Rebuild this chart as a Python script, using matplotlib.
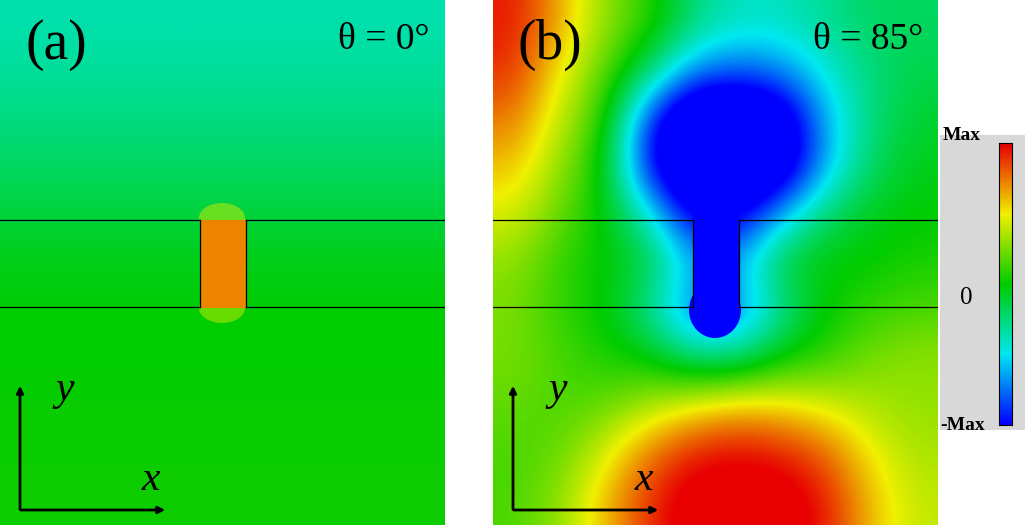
import numpy as np
import matplotlib
matplotlib.use("Agg")
import matplotlib.pyplot as plt
from matplotlib.colors import LinearSegmentedColormap
from matplotlib.patches import Rectangle, Ellipse

W, H = 1025, 525
cmap = LinearSegmentedColormap.from_list("f", [(0, "#0000ff"), (0.25, "#00e8f0"), (0.5, "#00cc00"),
                                              (0.75, "#f0f000"), (1, "#e80000")])
SERIF = "Liberation Serif"

# panel (a) coarse field (rows top->bottom)
field_a = np.array([
    [-0.36]*6, [-0.32]*6, [-0.27]*6, [-0.2]*6, [-0.12]*6,
    [-0.05]*6, [0.0]*6, [0.0]*6, [0.02]*6, [0.02]*6, [0.03]*6])
# panel (b) coarse field
field_b = np.array([
    [0.95, 0.65, 0.3, 0.1, -0.25, -0.4, -0.4, -0.3, -0.2, -0.2],
    [0.9, 0.5, 0.2, -0.2, -0.7, -0.8, -0.7, -0.45, -0.25, -0.15],
    [0.75, 0.4, 0.1, -0.9, -1.5, -1.5, -1.3, -0.6, -0.25, -0.1],
    [0.6, 0.3, 0.0, -1.0, -1.5, -1.5, -1.3, -0.6, -0.2, -0.05],
    [0.45, 0.2, 0.0, -0.4, -1.1, -1.1, -0.6, -0.2, -0.05, 0.0],
    [0.3, 0.1, 0.0, -0.1, -0.6, -0.6, -0.1, 0.0, 0.0, 0.05],
    [0.25, 0.1, 0.0, -0.3, -0.8, -0.8, -0.3, 0.0, 0.1, 0.15],
    [0.25, 0.15, 0.05, 0.0, -0.25, -0.25, 0.0, 0.1, 0.25, 0.3],
    [0.2, 0.15, 0.2, 0.35, 0.5, 0.6, 0.55, 0.45, 0.35, 0.3],
    [0.15, 0.2, 0.45, 0.75, 0.95, 1.0, 0.95, 0.8, 0.5, 0.35],
    [0.15, 0.3, 0.6, 0.9, 1.1, 1.1, 1.1, 0.95, 0.6, 0.4]])
rod_a, rod_b = 0.72, -1.0
labels = ["(a)", "(b)"]
angles = ["0", "85"]
cb_labels = ["Max", "0", "-Max"]

fig = plt.figure(figsize=(W/100, H/100), dpi=100)

def ax_px(x0, y0, w, h):
    return fig.add_axes([x0/W, 1-(y0+h)/H, w/W, h/H])

for i, (x0, fld, rv) in enumerate([(0, field_a, rod_a), (493, field_b, rod_b)]):
    ax = ax_px(x0, 0, 445, 525)
    ax.imshow(fld, cmap=cmap, vmin=-1, vmax=1, interpolation="bicubic",
              extent=(0, 445, 525, 0), aspect="auto")
    ax.set_xlim(0, 445); ax.set_ylim(525, 0); ax.axis("off")
    col = cmap((rv+1)/2)
    if i == 0:
        for yy in (218, 308):
            ax.add_patch(Ellipse((222, yy), 46, 30, color=cmap(0.74), alpha=0.45, lw=0))
        ax.add_patch(Rectangle((200, 220), 46, 88, color=col, lw=0))
    else:
        ax.add_patch(Ellipse((222, 310), 52, 56, color=col, lw=0))
        ax.add_patch(Rectangle((200, 200), 46, 108, color=col, lw=0))
    for yy in (220, 307):
        ax.plot([0, 200], [yy, yy], color="k", lw=0.9)
        ax.plot([246, 445], [yy, yy], color="k", lw=0.9)
    ax.plot([200, 200], [220, 307], color="k", lw=0.9)
    ax.plot([246, 246], [220, 307], color="k", lw=0.9)
    ax.text(25, 45, labels[i], fontsize=40, family=SERIF, va="center")
    ax.text(430, 40, "θ = " + angles[i] + "°", fontsize=27, family=SERIF,
            ha="right", va="center")
    ax.annotate("", xy=(20, 383), xytext=(20, 512), arrowprops=dict(arrowstyle="-|>", lw=2, color="k"))
    ax.annotate("", xy=(168, 510), xytext=(18, 510), arrowprops=dict(arrowstyle="-|>", lw=2, color="k"))
    ax.text(55, 390, "y", fontsize=30, style="italic", family=SERIF, va="center")
    ax.text(142, 480, "x", fontsize=30, style="italic", family=SERIF, va="center")

bg = ax_px(940, 135, 85, 295)
bg.set_facecolor("#d8d8d8"); bg.set_xticks([]); bg.set_yticks([])
for s in bg.spines.values(): s.set_visible(False)
cb = ax_px(999, 143, 13, 282)
cb.imshow(np.linspace(1, -1, 200)[:, None], cmap=cmap, vmin=-1, vmax=1, aspect="auto")
cb.set_xticks([]); cb.set_yticks([])
fig.text(943/W, 1-136/H, cb_labels[0], fontsize=14, fontweight="bold", family=SERIF, va="center")
fig.text(960/W, 1-298/H, cb_labels[1], fontsize=18, family=SERIF, va="center")
fig.text(940/W, 1-425/H, cb_labels[2], fontsize=14, fontweight="bold", family=SERIF, va="center")

fig.savefig("out.png", dpi=100)
